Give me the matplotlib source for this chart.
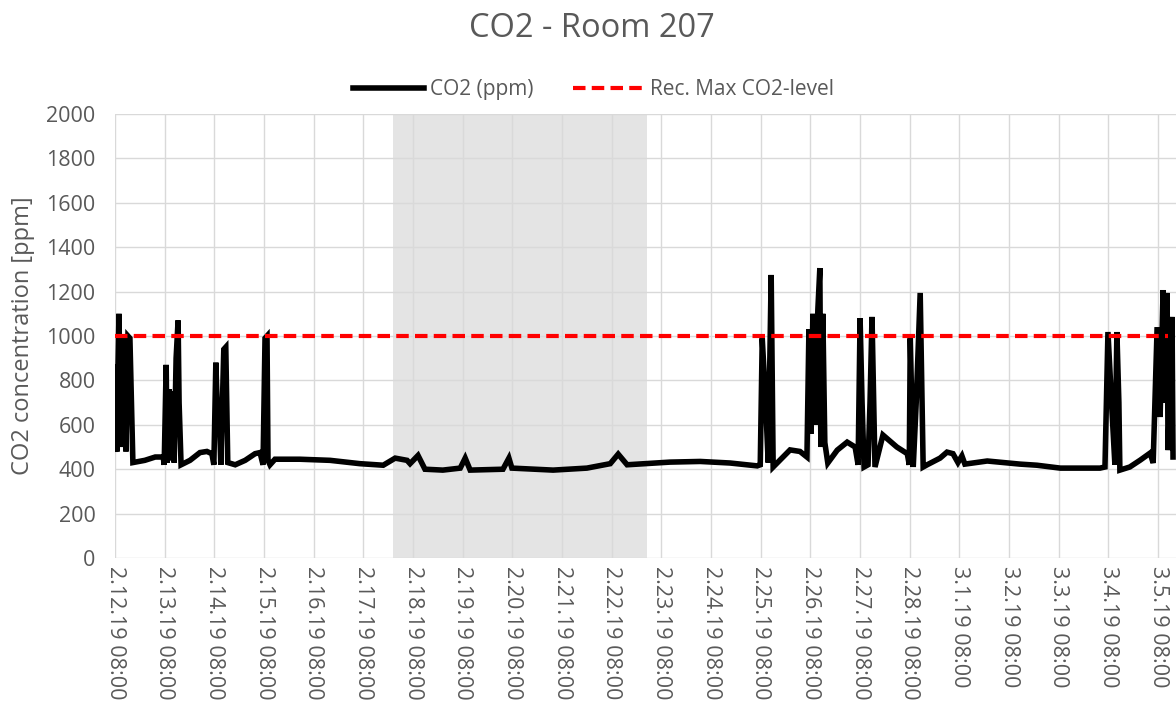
import matplotlib
matplotlib.use("Agg")
import matplotlib.pyplot as plt
import numpy as np

# time in days since 2.12.19 08:00, CO2 in ppm
days = [0.00, 0.02, 0.04, 0.06, 0.08, 0.10, 0.12, 0.14, 0.16, 0.20, 0.22, 0.26, 0.30, 0.36,
        0.60, 0.81, 0.97, 0.99, 1.03, 1.05, 1.09, 1.11, 1.15, 1.19, 1.23, 1.27, 1.29, 1.33,
        1.51, 1.71, 1.85, 1.95, 1.99, 2.03, 2.07, 2.09, 2.13, 2.19, 2.23, 2.27,
        2.42, 2.62, 2.82, 2.92, 2.98, 3.02, 3.06, 3.08, 3.12, 3.22,
        3.72, 4.33, 4.93, 5.40, 5.64, 5.88, 5.94, 6.10, 6.24, 6.60, 6.95, 7.05, 7.15,
        7.81, 7.93, 7.99, 8.82, 9.50, 9.97, 10.13, 10.31, 11.17, 11.78, 12.38, 12.93,
        12.99, 13.03, 13.09, 13.15, 13.21, 13.25, 13.59, 13.79, 13.93,
        13.97, 14.01, 14.05, 14.09, 14.15, 14.19, 14.21, 14.25, 14.29, 14.35,
        14.54, 14.74, 14.90, 14.96, 15.00, 15.04, 15.08, 15.16, 15.20, 15.24, 15.30,
        15.46, 15.74, 15.95, 15.99, 16.01, 16.07, 16.13, 16.21, 16.27, 16.35,
        16.61, 16.75, 16.87, 16.97, 17.05, 17.11, 17.56, 18.22, 18.56, 19.03, 19.83,
        19.93, 19.99, 20.07, 20.13, 20.17, 20.21, 20.23, 20.43, 20.64, 20.84, 20.90,
        20.98, 21.04, 21.10, 21.14, 21.18, 21.20, 21.28, 21.30]
co2 = [490, 870, 480, 860, 1100, 600, 980, 700, 500, 990, 480, 1000, 990, 430,
       440, 455, 455, 420, 870, 430, 760, 440, 750, 430, 900, 1070, 700, 420,
       440, 475, 480, 470, 420, 880, 600, 720, 420, 940, 950, 430,
       420, 440, 470, 475, 420, 990, 1000, 440, 420, 445,
       445, 440, 425, 418, 450, 440, 425, 462, 400, 396, 405, 450, 396,
       400, 450, 405, 396, 405, 425, 468, 420, 432, 435, 428, 415,
       420, 990, 740, 430, 1275, 410, 487, 480, 455,
       1030, 560, 1100, 600, 1120, 1306, 500, 1100, 520, 428,
       486, 522, 500, 420, 1080, 700, 410, 420, 700, 1086, 410,
       554, 500, 470, 420, 990, 410, 700, 1194, 410, 420,
       450, 477, 470, 430, 460, 423, 437, 423, 418, 405, 405,
       410, 1018, 667, 420, 1018, 700, 396, 410, 441, 473, 428,
       1040, 635, 1207, 700, 1194, 486, 1086, 455]

rec_max = 1000
rec_span = [0.0, 21.2]
shade_span = [5.60, 10.71]

tick_labels = ["2.12.19 08:00", "2.13.19 08:00", "2.14.19 08:00", "2.15.19 08:00",
               "2.16.19 08:00", "2.17.19 08:00", "2.18.19 08:00", "2.19.19 08:00",
               "2.20.19 08:00", "2.21.19 08:00", "2.22.19 08:00", "2.23.19 08:00",
               "2.24.19 08:00", "2.25.19 08:00", "2.26.19 08:00", "2.27.19 08:00",
               "2.28.19 08:00", "3.1.19 08:00", "3.2.19 08:00", "3.3.19 08:00",
               "3.4.19 08:00", "3.5.19 08:00"]

grey_txt = "#595959"
plt.rcParams['font.family'] = ['Open Sans', 'DejaVu Sans']

fig = plt.figure(figsize=(11.76, 7.07), dpi=100)
ax = fig.add_axes([0.0978, 0.2107, 0.9022, 0.6281])

ax.axvspan(shade_span[0], shade_span[1], color="#e4e4e4", zorder=0, lw=0)
ax.plot(days, co2, color="black", lw=4, solid_joinstyle="miter", label="CO2 (ppm)", zorder=3)
ax.plot(rec_span, [rec_max, rec_max], color="#ff0000", lw=3, dashes=(3, 1.5),
        label="Rec. Max CO2-level", zorder=4)

ax.set_xlim(0, 21.36)
ax.set_ylim(0, 2000)
ax.set_xticks(np.arange(len(tick_labels)))
ax.set_xticklabels(tick_labels, rotation=270, fontsize=15.5, color=grey_txt, va="top", ha="center")
ax.set_yticks(np.arange(0, 2001, 200))
ax.tick_params(axis="y", labelsize=15.5, labelcolor=grey_txt, length=0, pad=14)
ax.tick_params(axis="x", length=0, pad=6)
ax.grid(True, color="#d9d9d9", lw=1, zorder=1)
ax.set_axisbelow(True)
for s in ax.spines.values():
    s.set_visible(False)

ax.set_ylabel("CO2 concentration [ppm]", fontsize=17, color=grey_txt, labelpad=8)
fig.text(0.503, 0.960, "CO2 - Room 207", ha="center", va="center", fontsize=23.5, color=grey_txt)
ax.legend(loc="center", bbox_to_anchor=(0.451, 1.054), ncol=2, frameon=False, fontsize=15,
          handlelength=3.4, columnspacing=1.9, handletextpad=0.3, labelcolor=grey_txt)

fig.savefig("out.png", dpi=100)
